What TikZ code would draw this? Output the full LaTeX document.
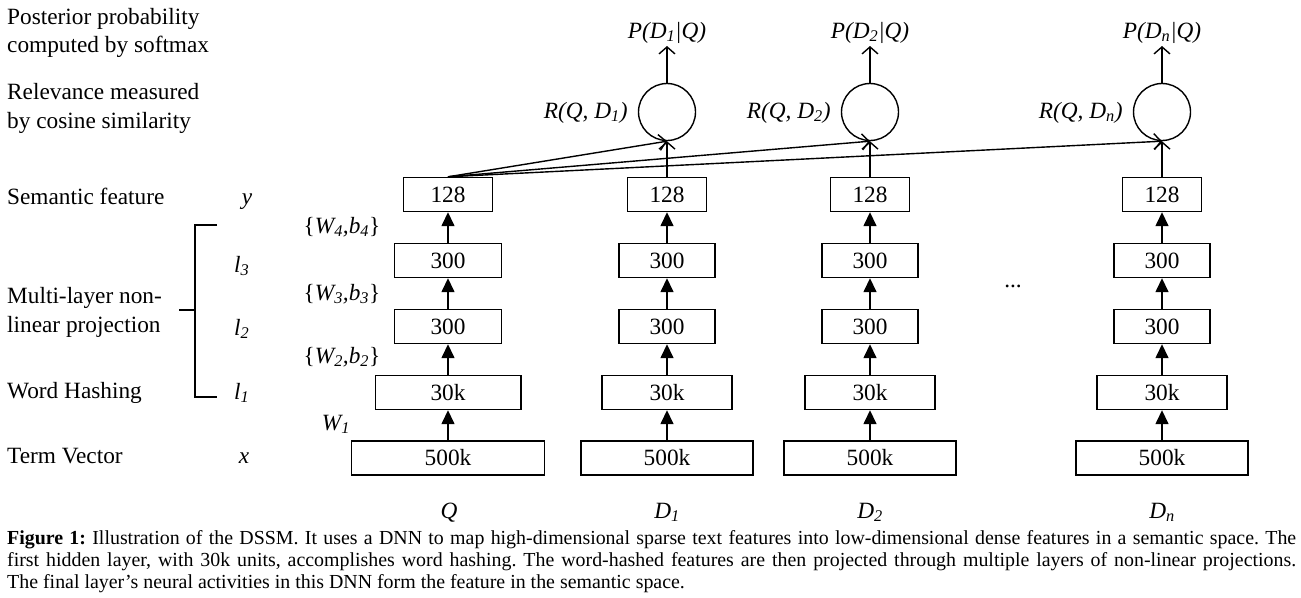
\documentclass[tikz,border=0pt]{standalone}
\usepackage{fontspec}
\setmainfont{Liberation Serif}
\usetikzlibrary{arrows.meta}
\newcommand\dfont{\fontsize{23.3}{28}\selectfont}
\newcommand\cfont{\fontsize{19.9}{22}\selectfont}
\tikzset{
  lay/.style={draw, line width=1.4pt, minimum height=34pt, inner sep=0pt, font=\dfont},
  upar/.style={line width=1.5pt, -{Triangle[length=14pt,width=13pt]}},
  barb/.style={line width=1.4pt, -{Straight Barb[length=7pt,width=16pt,line width=1.4pt]}},
  lbl/.style={anchor=base west, inner sep=0pt, font=\dfont},
  cen/.style={anchor=base, inner sep=0pt, font=\dfont},
  rlbl/.style={anchor=base east, inner sep=0pt, font=\dfont},
  cosn/.style={circle, draw, line width=1.4pt, minimum size=57pt, inner sep=0pt},
  capl/.style={anchor=base west, inner sep=0pt, font=\cfont},
}
\begin{document}
\frenchspacing
\begin{tikzpicture}[x=1pt,y=-1pt]
\useasboundingbox (0,0) rectangle (1301,597);
\fill[white] (0,0) rectangle (1301,597);

% left labels
\node[lbl] (t1) at (7,24) {Posterior probability};
\node[lbl] (t2) at (7,52) {computed by softmax};
\node[lbl] (t3) at (7,99) {Relevance measured};
\node[lbl] (t4) at (7,128) {by cosine similarity};
\node[lbl] (t5) at (7,204) {Semantic feature};
\node[lbl] (t6) at (7,303) {Multi-layer non-};
\node[lbl] (t7) at (7,332) {linear projection};
\node[lbl] (t8) at (7,398) {Word Hashing};
\node[lbl] (t9) at (7,463) {Term Vector};

% layer symbols
\node[cen] (sy) at (247,204) {\textit{y}};
\node[lbl] (sl3) at (234,272) {\textit{l\textsubscript{3}}};
\node[lbl] (sl2) at (234,335) {\textit{l\textsubscript{2}}};
\node[lbl] (sl1) at (234,399) {\textit{l\textsubscript{1}}};
\node[cen] (sx) at (244,463) {\textit{x}};

% bracket
\coordinate (b1) at (217,225);
\coordinate (b2) at (195,225);
\coordinate (b3) at (195,397);
\coordinate (b4) at (217,397);
\coordinate (b5) at (179,310);
\coordinate (b6) at (195,310);
\draw[line width=1.4pt] (b1) -- (b2) -- (b3) -- (b4);
\draw[line width=1.4pt] (b5) -- (b6);

% weight labels
\node[cen] (w4) at (342,233) {\{\textit{W\textsubscript{4},b\textsubscript{4}}\}};
\node[cen] (w3) at (342,300) {\{\textit{W\textsubscript{3},b\textsubscript{3}}\}};
\node[cen] (w2) at (342,363) {\{\textit{W\textsubscript{2},b\textsubscript{2}}\}};
\node[cen] (w1) at (336,430) {\textit{W\textsubscript{1}}};

% columns
\foreach \c/\x/\s in {q/448/1.12, d1/667/1, d2/870/1, dn/1162/1}{
  \node[lay, minimum width=172*\s] (\c-500) at (\x,458) {500k};
  \node[lay, minimum width=130*\s] (\c-30) at (\x,392.5) {30k};
  \node[lay, minimum width=96*\s] (\c-l2) at (\x,326.5) {300};
  \node[lay, minimum width=96*\s] (\c-l3) at (\x,260.5) {300};
  \node[lay, minimum width=79*\s] (\c-128) at (\x,194.5) {128};
  \draw[upar] (\c-500) -- (\c-30);
  \draw[upar] (\c-30) -- (\c-l2);
  \draw[upar] (\c-l2) -- (\c-l3);
  \draw[upar] (\c-l3) -- (\c-128);
}

% cosine nodes
\foreach \c/\x/\lab in {d1/667/1, d2/870/2, dn/1162/n}{
  \node[cosn] (\c-cos) at (\x,112) {};
  \node[cen] (\c-p) at (\x,38) {\textit{P(D\textsubscript{\lab}|Q)}};
  \coordinate (\c-pt) at (\x,46);
  \node[rlbl] (\c-r) at ([xshift=-10pt]\c-cos.west |- 0,118) {\textit{R(Q, D\textsubscript{\lab})}};
  \draw[barb] (\c-128) -- (\c-cos);
  \draw[barb] (\c-cos) -- (\c-pt);
  \draw[barb] (q-128.north) -- (\c-cos.south);
}

\node[cen] (dots) at (1013,287) {...};

% bottom labels
\node[cen] (lq) at (449,518) {\textit{Q}};
\node[cen] (ld1) at (667,518) {\textit{D\textsubscript{1}}};
\node[cen] (ld2) at (870,518) {\textit{D\textsubscript{2}}};
\node[cen] (ldn) at (1162,518) {\textit{D\textsubscript{n}}};

% caption
\node[capl] (c1) at (7,544) {\hbox to 1289pt{\textbf{Figure 1:} Illustration of the DSSM. It uses a DNN to map high-dimensional sparse text features into low-dimensional dense features in a semantic space. The}};
\node[capl] (c2) at (7,566) {\hbox to 1289pt{first hidden layer, with 30k units, accomplishes word hashing. The word-hashed features are then projected through multiple layers of non-linear projections.}};
\node[capl] (c3) at (7,588) {The final layer’s neural activities in this DNN form the feature in the semantic space.};
\end{tikzpicture}
\end{document}
